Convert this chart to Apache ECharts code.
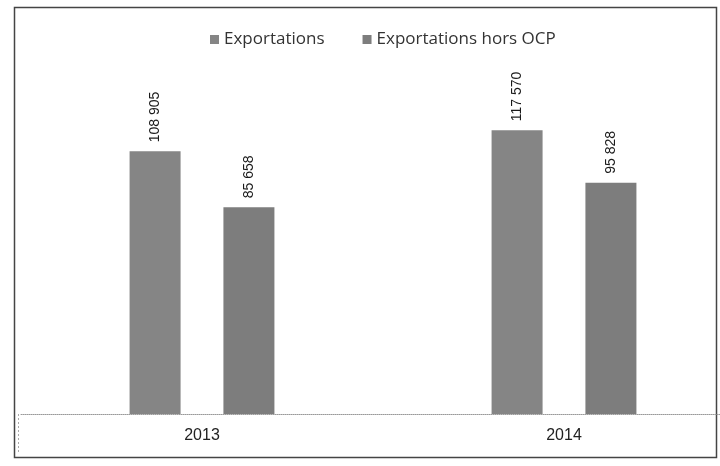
<!DOCTYPE html>
<html>
<head>
<meta charset="utf-8">
<script src="https://cdn.jsdelivr.net/npm/echarts@6/dist/echarts.min.js"></script>
<style>
  html, body { margin: 0; padding: 0; background: #fff; }
  #chart { width: 720px; height: 466px; }
</style>
</head>
<body>
<div id="chart"></div>
<script>
// années et valeurs
var years = ['2013', '2014'];
var exportations = [108905, 117570];
var exportationsHorsOCP = [85658, 95828];
var seriesNames = ['Exportations', 'Exportations hors OCP'];

function fmt(v) {
  return String(v).replace(/\B(?=(\d{3})+(?!\d))/g, ' ');
}

var labelStyle = {
  show: true,
  position: 'top',
  rotate: 90,
  align: 'left',
  verticalAlign: 'middle',
  distance: 9,
  color: '#1a1a1a',
  fontSize: 14,
  fontFamily: 'Liberation Sans',
  formatter: function (p) { return fmt(p.value); }
};

var myChart = echarts.init(document.getElementById('chart'));
myChart.setOption({
  animation: false,
  backgroundColor: '#fff',
  legend: {
    left: 205,
    top: 26,
    itemWidth: 9,
    itemHeight: 9,
    itemGap: 38,
    icon: 'rect',
    textStyle: { fontSize: 17, fontFamily: 'Open Sans', color: '#333' },
    data: seriesNames
  },
  grid: { left: 21, top: 40, width: 724, bottom: 52, outerBoundsMode: 'none' },
  xAxis: {
    type: 'category',
    data: years,
    axisTick: { show: false },
    axisLine: { lineStyle: { color: '#999', type: 'dotted', width: 1 } },
    axisLabel: { color: '#222', fontSize: 16, fontFamily: 'Liberation Sans', margin: 14 }
  },
  yAxis: {
    type: 'value',
    min: 0,
    max: 155000,
    show: false,
    splitLine: { show: false }
  },
  series: [
    {
      name: seriesNames[0],
      type: 'bar',
      data: exportations,
      barWidth: 51,
      barGap: '84%',
      itemStyle: { color: '#858585' },
      label: labelStyle
    },
    {
      name: seriesNames[1],
      type: 'bar',
      data: exportationsHorsOCP,
      barWidth: 51,
      itemStyle: { color: '#7d7d7d' },
      label: labelStyle
    }
  ],
  graphic: [
    {
      type: 'rect',
      shape: { x: 14.5, y: 7.5, width: 702, height: 450 },
      style: { fill: 'none', stroke: '#444', lineWidth: 1.5 },
      silent: true
    },
    {
      type: 'line',
      shape: { x1: 18.5, y1: 414, x2: 18.5, y2: 454 },
      style: { stroke: '#aaa', lineWidth: 1, lineDash: [2, 2] },
      silent: true
    }
  ]
});
</script>
</body>
</html>
